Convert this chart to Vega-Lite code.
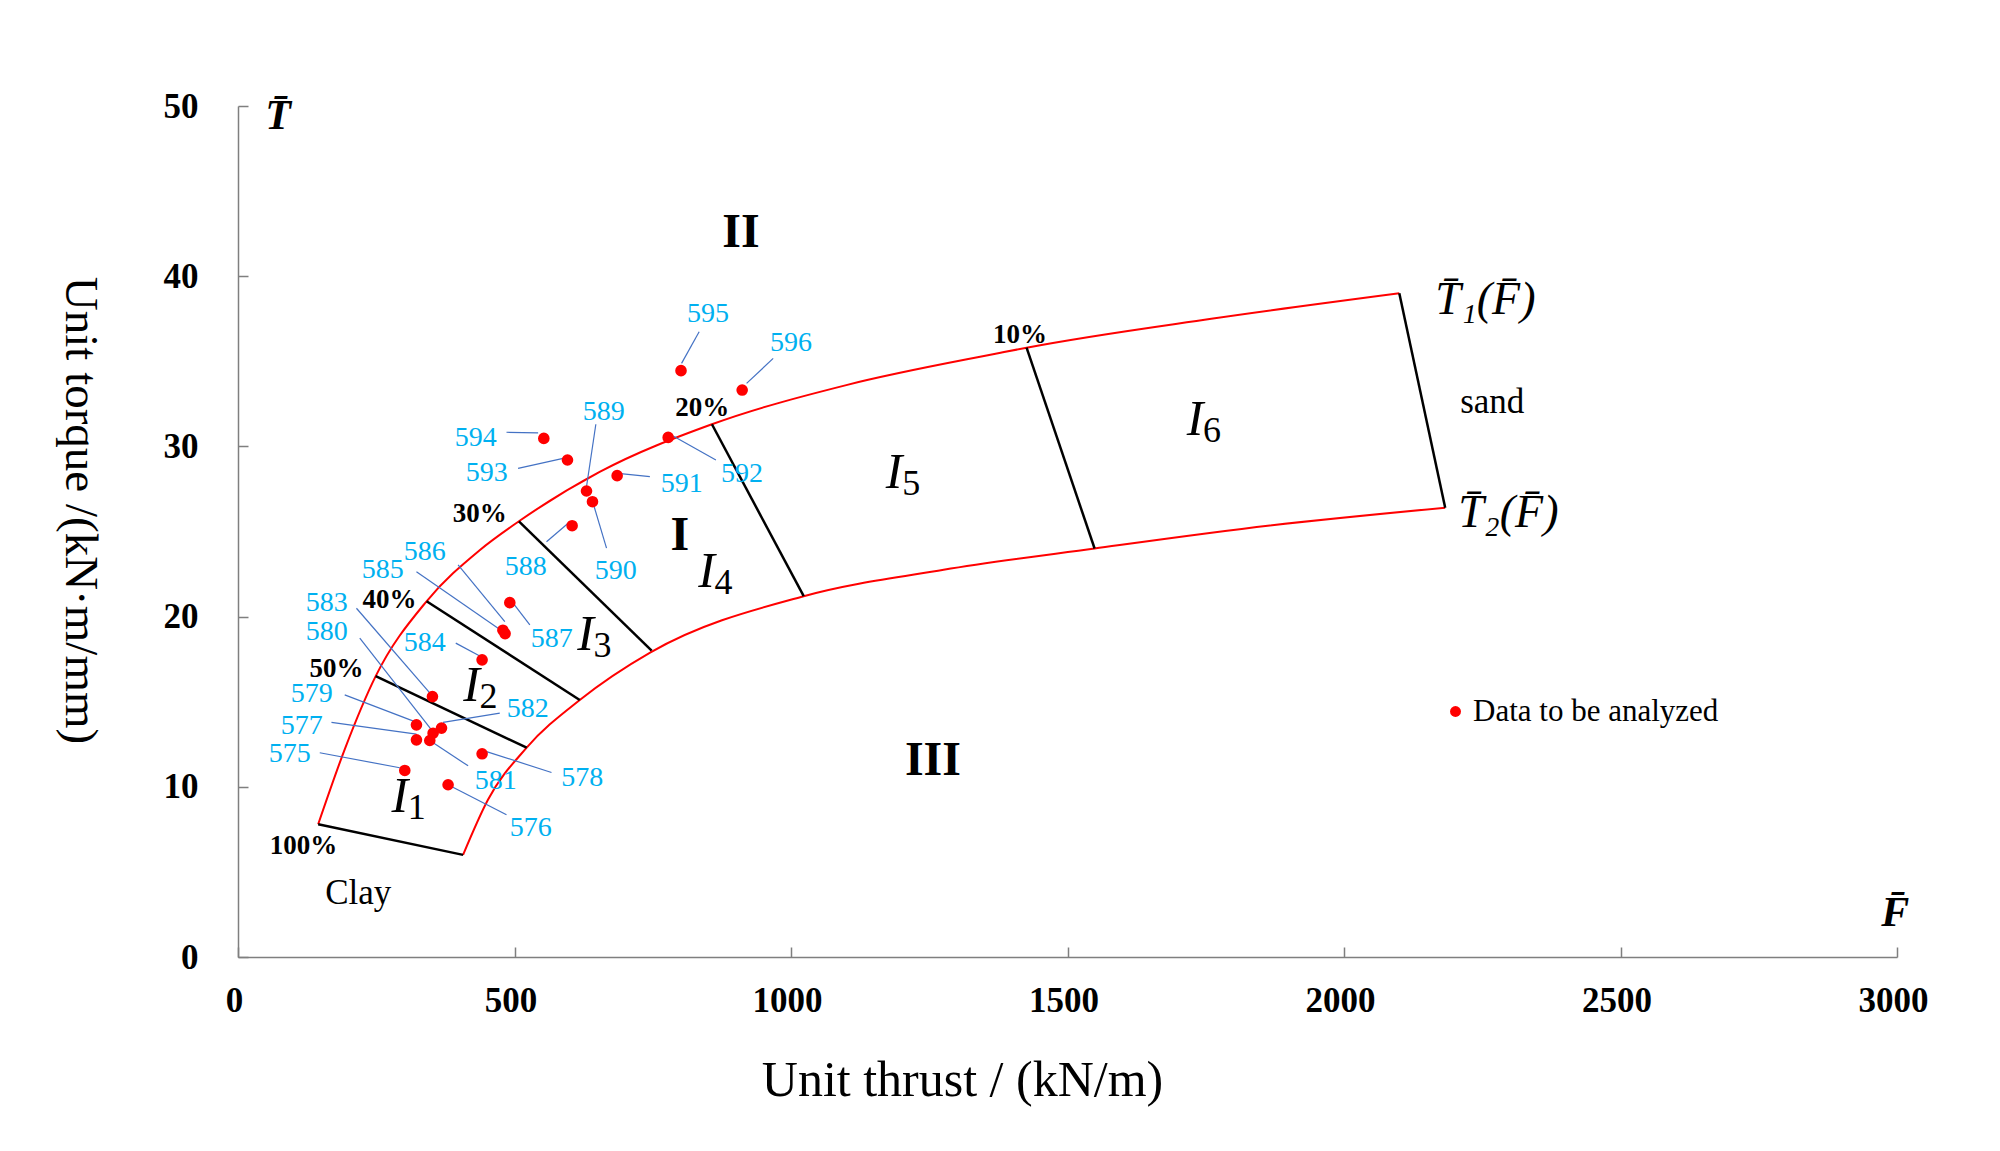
{
  "$schema": "https://vega.github.io/schema/vega-lite/v6.json",
  "width": 1659,
  "height": 851,
  "autosize": {"type": "none"},
  "padding": {"left": 238, "top": 106, "right": 103, "bottom": 194},
  "background": "white",
  "config": {"view": {"stroke": null}, "font": "Liberation Serif"},
  "datasets": {
    "curves": [
      {"curve": "T1", "F": 145, "T": 7.8},
      {"curve": "T1", "F": 193, "T": 12.2},
      {"curve": "T1", "F": 249, "T": 16.5},
      {"curve": "T1", "F": 341, "T": 20.9},
      {"curve": "T1", "F": 437, "T": 23.9},
      {"curve": "T1", "F": 508, "T": 25.6},
      {"curve": "T1", "F": 654, "T": 28.5},
      {"curve": "T1", "F": 857, "T": 31.3},
      {"curve": "T1", "F": 1100, "T": 33.6},
      {"curve": "T1", "F": 1379, "T": 35.5},
      {"curve": "T1", "F": 1426, "T": 35.8},
      {"curve": "T1", "F": 1760, "T": 37.5},
      {"curve": "T1", "F": 2100, "T": 39.0},
      {"curve": "T2", "F": 407, "T": 6.0},
      {"curve": "T2", "F": 452, "T": 9.24},
      {"curve": "T2", "F": 522, "T": 12.3},
      {"curve": "T2", "F": 618, "T": 15.1},
      {"curve": "T2", "F": 746, "T": 17.9},
      {"curve": "T2", "F": 1023, "T": 21.2},
      {"curve": "T2", "F": 1276, "T": 22.75},
      {"curve": "T2", "F": 1549, "T": 24.0},
      {"curve": "T2", "F": 1866, "T": 25.35},
      {"curve": "T2", "F": 2183, "T": 26.4}
    ],
    "dividers": [
      {"F": 145, "T": 7.8, "F2": 407, "T2": 6.0},
      {"F": 249, "T": 16.5, "F2": 522, "T2": 12.3},
      {"F": 341, "T": 20.9, "F2": 618, "T2": 15.1},
      {"F": 508, "T": 25.6, "F2": 748, "T2": 18.0},
      {"F": 857, "T": 31.3, "F2": 1023, "T2": 21.2},
      {"F": 1426, "T": 35.8, "F2": 1549, "T2": 24.0},
      {"F": 2100, "T": 39.0, "F2": 2183, "T2": 26.4}
    ],
    "leaders": [
      {"F": 147.8, "T": 12.0, "F2": 292.5, "T2": 11.12},
      {"F": 386, "T": 10.02, "F2": 485.5, "T2": 8.36},
      {"F": 169, "T": 13.78, "F2": 322.7, "T2": 13.09},
      {"F": 449.4, "T": 12.07, "F2": 566.9, "T2": 10.84},
      {"F": 193, "T": 15.4, "F2": 319.7, "T2": 13.83},
      {"F": 220.2, "T": 18.73, "F2": 349.9, "T2": 13.35},
      {"F": 416.1, "T": 11.23, "F2": 346.8, "T2": 12.72},
      {"F": 473.4, "T": 14.33, "F2": 370.8, "T2": 13.78},
      {"F": 214.2, "T": 20.49, "F2": 349.9, "T2": 15.4},
      {"F": 393.8, "T": 18.44, "F2": 437.2, "T2": 17.69},
      {"F": 322.7, "T": 22.64, "F2": 470.3, "T2": 19.32},
      {"F": 398, "T": 23.04, "F2": 482.5, "T2": 19.71},
      {"F": 497.5, "T": 20.79, "F2": 527.7, "T2": 19.51},
      {"F": 557.9, "T": 24.4, "F2": 597, "T2": 25.48},
      {"F": 647.1, "T": 31.3, "F2": 630.2, "T2": 27.63},
      {"F": 642.2, "T": 26.66, "F2": 666.4, "T2": 24.02},
      {"F": 687.4, "T": 28.42, "F2": 744.8, "T2": 28.22},
      {"F": 786.9, "T": 30.61, "F2": 864.2, "T2": 29.2},
      {"F": 506.5, "T": 28.71, "F2": 587.9, "T2": 29.3},
      {"F": 485.5, "T": 30.83, "F2": 542.7, "T2": 30.8},
      {"F": 833.9, "T": 36.74, "F2": 802.1, "T2": 34.88},
      {"F": 967.8, "T": 35.17, "F2": 919.7, "T2": 33.7}
    ],
    "points": [
      {"id": "575", "F": 301.6, "T": 10.96, "series": "Data to be analyzed"},
      {"id": "576", "F": 379.9, "T": 10.12, "series": "Data to be analyzed"},
      {"id": "577", "F": 322.7, "T": 12.76, "series": "Data to be analyzed"},
      {"id": "578", "F": 441.4, "T": 11.94, "series": "Data to be analyzed"},
      {"id": "579", "F": 322.7, "T": 13.64, "series": "Data to be analyzed"},
      {"id": "580", "F": 352.8, "T": 13.15, "series": "Data to be analyzed"},
      {"id": "581", "F": 346.8, "T": 12.72, "series": "Data to be analyzed"},
      {"id": "582", "F": 368.0, "T": 13.45, "series": "Data to be analyzed"},
      {"id": "583", "F": 351.6, "T": 15.3, "series": "Data to be analyzed"},
      {"id": "584", "F": 441.4, "T": 17.46, "series": "Data to be analyzed"},
      {"id": "585", "F": 479.0, "T": 19.2, "series": "Data to be analyzed"},
      {"id": "586", "F": 483.0, "T": 19.0, "series": "Data to be analyzed"},
      {"id": "587", "F": 491.5, "T": 20.82, "series": "Data to be analyzed"},
      {"id": "588", "F": 604.2, "T": 25.34, "series": "Data to be analyzed"},
      {"id": "589", "F": 630.2, "T": 27.38, "series": "Data to be analyzed"},
      {"id": "590", "F": 641.0, "T": 26.75, "series": "Data to be analyzed"},
      {"id": "591", "F": 685.6, "T": 28.28, "series": "Data to be analyzed"},
      {"id": "592", "F": 777.9, "T": 30.53, "series": "Data to be analyzed"},
      {"id": "593", "F": 595.8, "T": 29.2, "series": "Data to be analyzed"},
      {"id": "594", "F": 553.0, "T": 30.47, "series": "Data to be analyzed"},
      {"id": "595", "F": 801.1, "T": 34.45, "series": "Data to be analyzed"},
      {"id": "596", "F": 911.7, "T": 33.31, "series": "Data to be analyzed"}
    ],
    "ptlabels": [
      {"text": "575", "F": 93.5, "T": 11.94},
      {"text": "576", "F": 529.3, "T": 7.59},
      {"text": "577", "F": 115.2, "T": 13.58},
      {"text": "578", "F": 622.6, "T": 10.53},
      {"text": "579", "F": 133.3, "T": 15.46},
      {"text": "580", "F": 160.5, "T": 19.1},
      {"text": "581", "F": 466.2, "T": 10.35},
      {"text": "582", "F": 524.1, "T": 14.58},
      {"text": "583", "F": 160.5, "T": 20.8},
      {"text": "584", "F": 337.7, "T": 18.46},
      {"text": "585", "F": 261.8, "T": 22.74},
      {"text": "586", "F": 337.7, "T": 23.8},
      {"text": "587", "F": 567.5, "T": 18.69},
      {"text": "588", "F": 520.4, "T": 22.92},
      {"text": "589", "F": 661.5, "T": 32.0},
      {"text": "590", "F": 683.2, "T": 22.68},
      {"text": "591", "F": 802.6, "T": 27.79},
      {"text": "592", "F": 911.2, "T": 28.38},
      {"text": "593", "F": 449.9, "T": 28.44},
      {"text": "594", "F": 430.0, "T": 30.52},
      {"text": "595", "F": 849.7, "T": 37.77},
      {"text": "596", "F": 999.9, "T": 36.1}
    ],
    "percents": [
      {"text": "100%", "F": 118.3, "T": 6.55},
      {"text": "50%", "F": 178, "T": 16.93},
      {"text": "40%", "F": 273.9, "T": 20.98},
      {"text": "30%", "F": 437.2, "T": 26.03},
      {"text": "20%", "F": 839.7, "T": 32.28},
      {"text": "10%", "F": 1414, "T": 36.54}
    ],
    "regions": [
      {"main": "I", "sub": "1", "F": 292.5, "T": 9.41},
      {"main": "I", "sub": "2", "F": 422.2, "T": 15.93},
      {"main": "I", "sub": "3", "F": 628.6, "T": 18.93},
      {"main": "I", "sub": "4", "F": 847.3, "T": 22.64},
      {"main": "I", "sub": "5", "F": 1186.5, "T": 28.42},
      {"main": "I", "sub": "6", "F": 1730.6, "T": 31.58}
    ],
    "roman": [
      {"text": "I", "F": 799, "T": 24.75},
      {"text": "II", "F": 909.4, "T": 42.54},
      {"text": "III", "F": 1256.7, "T": 11.5}
    ],
    "words": [
      {"text": "Clay", "F": 217.4, "T": 3.78},
      {"text": "sand", "F": 2268, "T": 32.6}
    ],
    "funcs": [
      {"text": "T\u0304\u2081(F\u0304)", "F": 2164.8, "T": 38.6},
      {"text": "T\u0304\u2082(F\u0304)", "F": 2206.4, "T": 26.06}
    ],
    "axsym": [
      {"text": "T\u0304", "F": 72.7, "T": 49.4},
      {"text": "F\u0304", "F": 2997, "T": 2.6}
    ]
  },
  "encoding": {
    "x": {
      "field": "F",
      "type": "quantitative",
      "scale": {"domain": [0, 3000], "nice": false, "zero": false},
      "axis": {
        "values": [0, 500, 1000, 1500, 2000, 2500, 3000],
        "format": "d",
        "title": "Unit thrust / (kN/m)",
        "grid": false,
        "domainColor": "#7f7f7f",
        "domainWidth": 1.5,
        "tickColor": "#7f7f7f",
        "tickWidth": 1.5,
        "tickSize": -10,
        "labelPadding": 36,
        "labelOffset": -4,
        "labelFont": "Liberation Serif",
        "labelFontSize": 35,
        "labelFontWeight": "bold",
        "labelColor": "#000000",
        "labelFlush": false,
        "labelOverlap": false,
        "titleFont": "Liberation Serif",
        "titleFontSize": 50,
        "titleFontWeight": "normal",
        "titleColor": "#000000",
        "titleX": 724,
        "titleY": 123,
        "titleAlign": "center",
        "titleBaseline": "middle"
      }
    },
    "y": {
      "field": "T",
      "type": "quantitative",
      "scale": {"domain": [0, 50], "nice": false, "zero": false},
      "axis": {
        "values": [0, 10, 20, 30, 40, 50],
        "format": "d",
        "title": "Unit torque /(kN·m/mm)",
        "grid": false,
        "domainColor": "#7f7f7f",
        "domainWidth": 1.5,
        "tickColor": "#7f7f7f",
        "tickWidth": 1.5,
        "tickSize": -10,
        "labelPadding": 50,
        "labelFont": "Liberation Serif",
        "labelFontSize": 35,
        "labelFontWeight": "bold",
        "labelColor": "#000000",
        "labelFlush": false,
        "labelOverlap": false,
        "titleFont": "Liberation Serif",
        "titleFontSize": 47,
        "titleFontWeight": "normal",
        "titleColor": "#000000",
        "titleX": -159,
        "titleY": 404,
        "titleAngle": 90,
        "titleAlign": "center",
        "titleBaseline": "middle"
      }
    }
  },
  "layer": [
    {
      "data": {"name": "curves"},
      "mark": {"type": "line", "color": "#FF0000", "strokeWidth": 2, "interpolate": "monotone"},
      "encoding": {"detail": {"field": "curve", "type": "nominal"}}
    },
    {
      "data": {"name": "dividers"},
      "mark": {"type": "rule", "color": "#000000", "strokeWidth": 2.5},
      "encoding": {"x2": {"field": "F2"}, "y2": {"field": "T2"}}
    },
    {
      "data": {"name": "leaders"},
      "mark": {"type": "rule", "color": "#4472C4", "strokeWidth": 1.2},
      "encoding": {"x2": {"field": "F2"}, "y2": {"field": "T2"}}
    },
    {
      "data": {"name": "points"},
      "mark": {"type": "circle", "size": 135, "opacity": 1},
      "encoding": {
        "color": {
          "field": "series",
          "type": "nominal",
          "scale": {"range": ["#FF0000"]},
          "legend": {
            "title": null,
            "orient": "none",
            "legendX": 1202,
            "legendY": 590,
            "padding": 0,
            "labelFont": "Liberation Serif",
            "labelFontSize": 31,
            "labelColor": "#000000",
            "labelOffset": 2,
            "labelLimit": 0,
            "symbolSize": 120,
            "symbolType": "circle",
            "symbolStrokeWidth": 0
          }
        }
      }
    },
    {
      "data": {"name": "ptlabels"},
      "mark": {"type": "text", "font": "Liberation Serif", "fontSize": 28, "color": "#00B0F0", "align": "center", "baseline": "middle"},
      "encoding": {"text": {"field": "text"}}
    },
    {
      "data": {"name": "percents"},
      "mark": {"type": "text", "font": "Liberation Serif", "fontSize": 27, "fontWeight": "bold", "color": "#000000", "align": "center", "baseline": "middle"},
      "encoding": {"text": {"field": "text"}}
    },
    {
      "data": {"name": "regions"},
      "mark": {"type": "text", "font": "Liberation Serif", "fontSize": 50, "fontStyle": "italic", "color": "#000000", "align": "center", "baseline": "middle"},
      "encoding": {"text": {"field": "main"}}
    },
    {
      "data": {"name": "regions"},
      "mark": {"type": "text", "font": "Liberation Serif", "fontSize": 36, "color": "#000000", "align": "left", "baseline": "middle", "dx": 8, "dy": 11},
      "encoding": {"text": {"field": "sub"}}
    },
    {
      "data": {"name": "roman"},
      "mark": {"type": "text", "font": "Liberation Serif", "fontSize": 48, "fontWeight": "bold", "color": "#000000", "align": "center", "baseline": "middle"},
      "encoding": {"text": {"field": "text"}}
    },
    {
      "data": {"name": "words"},
      "mark": {"type": "text", "font": "Liberation Serif", "fontSize": 35, "color": "#000000", "align": "center", "baseline": "middle"},
      "encoding": {"text": {"field": "text"}}
    },
    {
      "data": {"name": "funcs"},
      "mark": {"type": "text", "font": "Liberation Serif", "fontSize": 46, "fontStyle": "italic", "color": "#000000", "align": "left", "baseline": "middle"},
      "encoding": {"text": {"field": "text"}}
    },
    {
      "data": {"name": "axsym"},
      "mark": {"type": "text", "font": "Liberation Serif", "fontSize": 42, "fontStyle": "italic", "fontWeight": "bold", "color": "#000000", "align": "center", "baseline": "middle"},
      "encoding": {"text": {"field": "text"}}
    }
  ]
}
